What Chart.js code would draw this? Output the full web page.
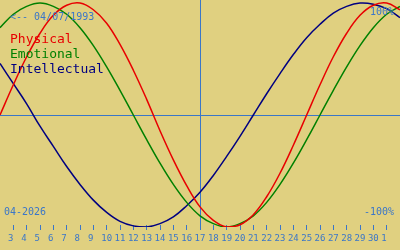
<!DOCTYPE html>
<html>
<head>
<meta charset="utf-8">
<script src="https://cdn.jsdelivr.net/npm/chart.js@4"></script>
<style>
  html, body { margin: 0; padding: 0; background: #e0d080; }
  #wrap { position: relative; width: 400px; height: 250px; overflow: hidden; }
  #chart { position: absolute; left: 0; top: 0; }
  .txt { position: absolute; font-family: 'DejaVu Sans Mono', monospace; white-space: pre; }
  .small { font-size: 10px; line-height: 10px; color: #3a76c8; }
  .big { font-size: 13px; line-height: 13px; }
</style>
</head>
<body>
<div id="wrap">
  <canvas id="chart" width="400" height="250"></canvas>
  <div class="txt small" style="left:10px; top:12px;">&lt;-- 04/07/1993</div>
  <div class="txt small" style="left:370px; top:7px;">100%</div>
  <div class="txt small" style="left:364px; top:207px;">-100%</div>
  <div class="txt small" style="left:4px; top:207px;">04-2026</div>
  <div class="txt big" style="left:10px; top:32px; color:#e80000;">Physical</div>
  <div class="txt big" style="left:10px; top:47px; color:#008000;">Emotional</div>
  <div class="txt big" style="left:10px; top:62px; color:#000080;">Intellectual</div>
</div>
<script>
// day-of-month labels under the tick marks (2 Apr .. 2 May, ticks on 3 Apr .. 1 May)
const dayLabels = ['3', '4', '5', '6', '7', '8', '9', '10', '11', '12', '13', '14', '15', '16', '17',
  '18', '19', '20', '21', '22', '23', '24', '25', '26', '27', '28', '29', '30', '1'];

// one value per day, from 2 Apr to 2 May, in percent
const physical = [0, 27, 52, 73, 89, 98, 100, 94, 82, 63, 40, 14, -14, -40, -63, -82, -94, -100,
  -98, -89, -73, -52, -27, 0, 27, 52, 73, 89, 98, 100, 94];
const emotional = [78, 90, 97, 100, 97, 90, 78, 62, 43, 22, 0, -22, -43, -62, -78, -90, -97, -100,
  -97, -90, -78, -62, -43, -22, 0, 22, 43, 62, 78, 90, 97];
const intellectual = [46, 28, 10, -10, -28, -46, -62, -76, -87, -95, -99, -100, -97, -91, -81, -69,
  -54, -37, -19, 0, 19, 37, 54, 69, 81, 91, 97, 100, 99, 95, 87];

const todayIndex = 15; // 17 Apr
const axisBlue = '#3a76c8';

function toPoints(values) {
  return values.map((v, i) => ({ x: i, y: v }));
}

function series(label, values, color) {
  return {
    label,
    data: toPoints(values),
    borderColor: color,
    backgroundColor: color,
    borderWidth: 1.5,
    pointRadius: 0,
    tension: 0.4,
    fill: false,
  };
}

new Chart(document.getElementById('chart'), {
  type: 'line',
  data: {
    datasets: [
      series('Physical', physical, '#e80000'),
      series('Emotional', emotional, '#008000'),
      series('Intellectual', intellectual, '#000080'),
    ],
  },
  options: {
    responsive: false,
    animation: false,
    layout: { padding: { top: 0, bottom: 23, left: 0, right: 0 } },
    plugins: {
      legend: { display: false },
      tooltip: { enabled: false },
    },
    scales: {
      x: {
        type: 'linear',
        min: 0,
        max: physical.length - 1,
        position: { y: -98 },
        afterBuildTicks: (scale) => {
          scale.ticks = dayLabels.map((_, k) => ({ value: k + 1 }));
        },
        border: { display: false },
        grid: {
          drawOnChartArea: true,
          color: (ctx) => (ctx.tick && ctx.tick.value === todayIndex ? axisBlue : 'transparent'),
          tickColor: axisBlue,
          tickLength: 5,
          lineWidth: 1,
        },
        ticks: {
          autoSkip: false,
          maxRotation: 0,
          padding: 3,
          color: axisBlue,
          font: { family: 'DejaVu Sans Mono', size: 9 },
          callback: (value) => {
            const label = dayLabels[value - 1] || '';
            return label.length === 1 ? label + ' ' : label;
          },
        },
      },
      y: {
        min: -100,
        max: 102.7,
        border: { display: false },
        afterBuildTicks: (scale) => {
          scale.ticks = [{ value: 0 }];
        },
        grid: {
          drawTicks: false,
          color: axisBlue,
        },
        ticks: { display: false },
      },
    },
  },
});
</script>
</body>
</html>
